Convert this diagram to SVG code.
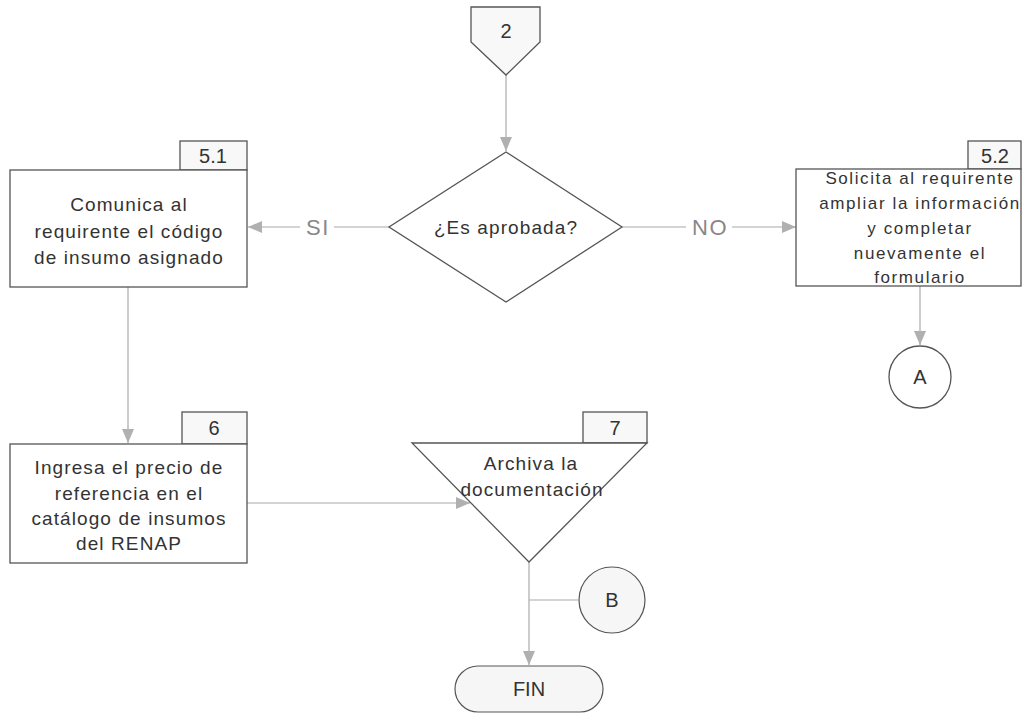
<svg xmlns="http://www.w3.org/2000/svg" width="1024" height="724" viewBox="0 0 1024 724">
  <style>
    .shape { fill: #ffffff; stroke: #555555; stroke-width: 1.3; }
    .tab { fill: #f8f8f8; stroke: #555555; stroke-width: 1.3; }
    .soft { fill: #f6f6f6; stroke: #555555; stroke-width: 1.2; }
    .txt { font-family: "Liberation Sans", Arial, sans-serif; font-size: 19px; fill: #333333; text-anchor: middle; letter-spacing: 1.1px; }
    .small { font-size: 17px; letter-spacing: 1.6px; }
    .num { font-family: "Liberation Sans", Arial, sans-serif; font-size: 20px; fill: #333333; text-anchor: middle; }
    .lbl { font-family: "Liberation Sans", Arial, sans-serif; font-size: 22px; fill: #888888; text-anchor: middle; letter-spacing: 1.5px; }
    .conn { fill: none; stroke: #aaaaaa; stroke-width: 1.2; }
  </style>
  <defs>
    <marker id="arrow" viewBox="0 0 14 12" refX="14" refY="6" markerWidth="14" markerHeight="12" markerUnits="userSpaceOnUse" orient="auto">
      <path d="M0,0 L14,6 L0,12 Z" fill="#b0b0b0"/>
    </marker>
  </defs>

  <rect width="1024" height="724" fill="#ffffff"/>

  <!-- connectors -->
  <g id="connectors">
    <line class="conn" x1="506" y1="75" x2="506" y2="151" marker-end="url(#arrow)"/>
    <line class="conn" x1="389" y1="227" x2="248" y2="227" marker-end="url(#arrow)"/>
    <line class="conn" x1="622" y1="227" x2="796" y2="227" marker-end="url(#arrow)"/>
    <line class="conn" x1="920" y1="286" x2="920" y2="345" marker-end="url(#arrow)"/>
    <line class="conn" x1="128" y1="287" x2="128" y2="443" marker-end="url(#arrow)"/>
    <line class="conn" x1="247" y1="503" x2="470" y2="503" marker-end="url(#arrow)"/>
    <line class="conn" x1="529" y1="562" x2="529" y2="665" marker-end="url(#arrow)"/>
    <line class="conn" x1="529" y1="600" x2="578" y2="600"/>
    <!-- branch labels -->
    <rect x="300" y="214" width="34" height="26" fill="#ffffff"/>
    <text class="lbl" x="318" y="235">SI</text>
    <rect x="686" y="214" width="46" height="26" fill="#ffffff"/>
    <text class="lbl" x="710" y="235">NO</text>
  </g>

  <!-- off-page connector 2 -->
  <g id="node-2">
    <polygon class="tab" points="471,7 540,7 540,42 506,75 471,42"/>
    <text class="num" x="506" y="38">2</text>
  </g>

  <!-- decision -->
  <g id="node-decision">
    <polygon class="shape" points="506,152 622,227 506,302 389,227"/>
    <text class="txt" x="506" y="234">¿Es aprobada?</text>
  </g>

  <!-- step 5.1 -->
  <g id="node-5-1">
    <rect class="tab" x="180" y="141" width="67" height="29"/>
    <text class="num" x="213" y="163">5.1</text>
    <rect class="shape" x="10" y="170" width="237" height="117"/>
    <text class="txt" x="129" y="211">Comunica al</text>
    <text class="txt" x="129" y="238">requirente el código</text>
    <text class="txt" x="129" y="264">de insumo asignado</text>
  </g>

  <!-- step 5.2 -->
  <g id="node-5-2">
    <rect class="tab" x="968" y="141" width="53" height="28"/>
    <text class="num" x="995" y="163">5.2</text>
    <rect class="shape" x="796" y="169" width="225" height="117"/>
    <text class="txt small" x="920" y="184">Solicita al requirente</text>
    <text class="txt small" x="920" y="209">ampliar la información</text>
    <text class="txt small" x="920" y="234">y completar</text>
    <text class="txt small" x="920" y="259">nuevamente el</text>
    <text class="txt small" x="920" y="283">formulario</text>
  </g>

  <!-- connector A -->
  <g id="node-A">
    <circle class="shape" cx="920" cy="377" r="31"/>
    <text class="num" x="920" y="384">A</text>
  </g>

  <!-- step 6 -->
  <g id="node-6">
    <rect class="tab" x="182" y="412" width="65" height="32"/>
    <text class="num" x="214" y="435">6</text>
    <rect class="shape" x="10" y="444" width="237" height="119"/>
    <text class="txt" x="129" y="474">Ingresa el precio de</text>
    <text class="txt" x="129" y="500">referencia en el</text>
    <text class="txt" x="129" y="525">catálogo de insumos</text>
    <text class="txt" x="129" y="550">del RENAP</text>
  </g>

  <!-- step 7: archive -->
  <g id="node-7">
    <rect class="tab" x="583" y="412" width="64" height="31"/>
    <text class="num" x="615" y="435">7</text>
    <polygon class="shape" points="412,443 647,443 529,562"/>
    <text class="txt" x="531" y="470">Archiva la</text>
    <text class="txt" x="532" y="496">documentación</text>
  </g>

  <!-- connector B -->
  <g id="node-B">
    <circle class="soft" cx="612" cy="600" r="33"/>
    <text class="num" x="612" y="607">B</text>
  </g>

  <!-- end -->
  <g id="node-fin">
    <rect class="soft" x="455" y="666" width="148" height="46" rx="23" ry="23"/>
    <text class="num" x="529" y="696">FIN</text>
  </g>
</svg>
